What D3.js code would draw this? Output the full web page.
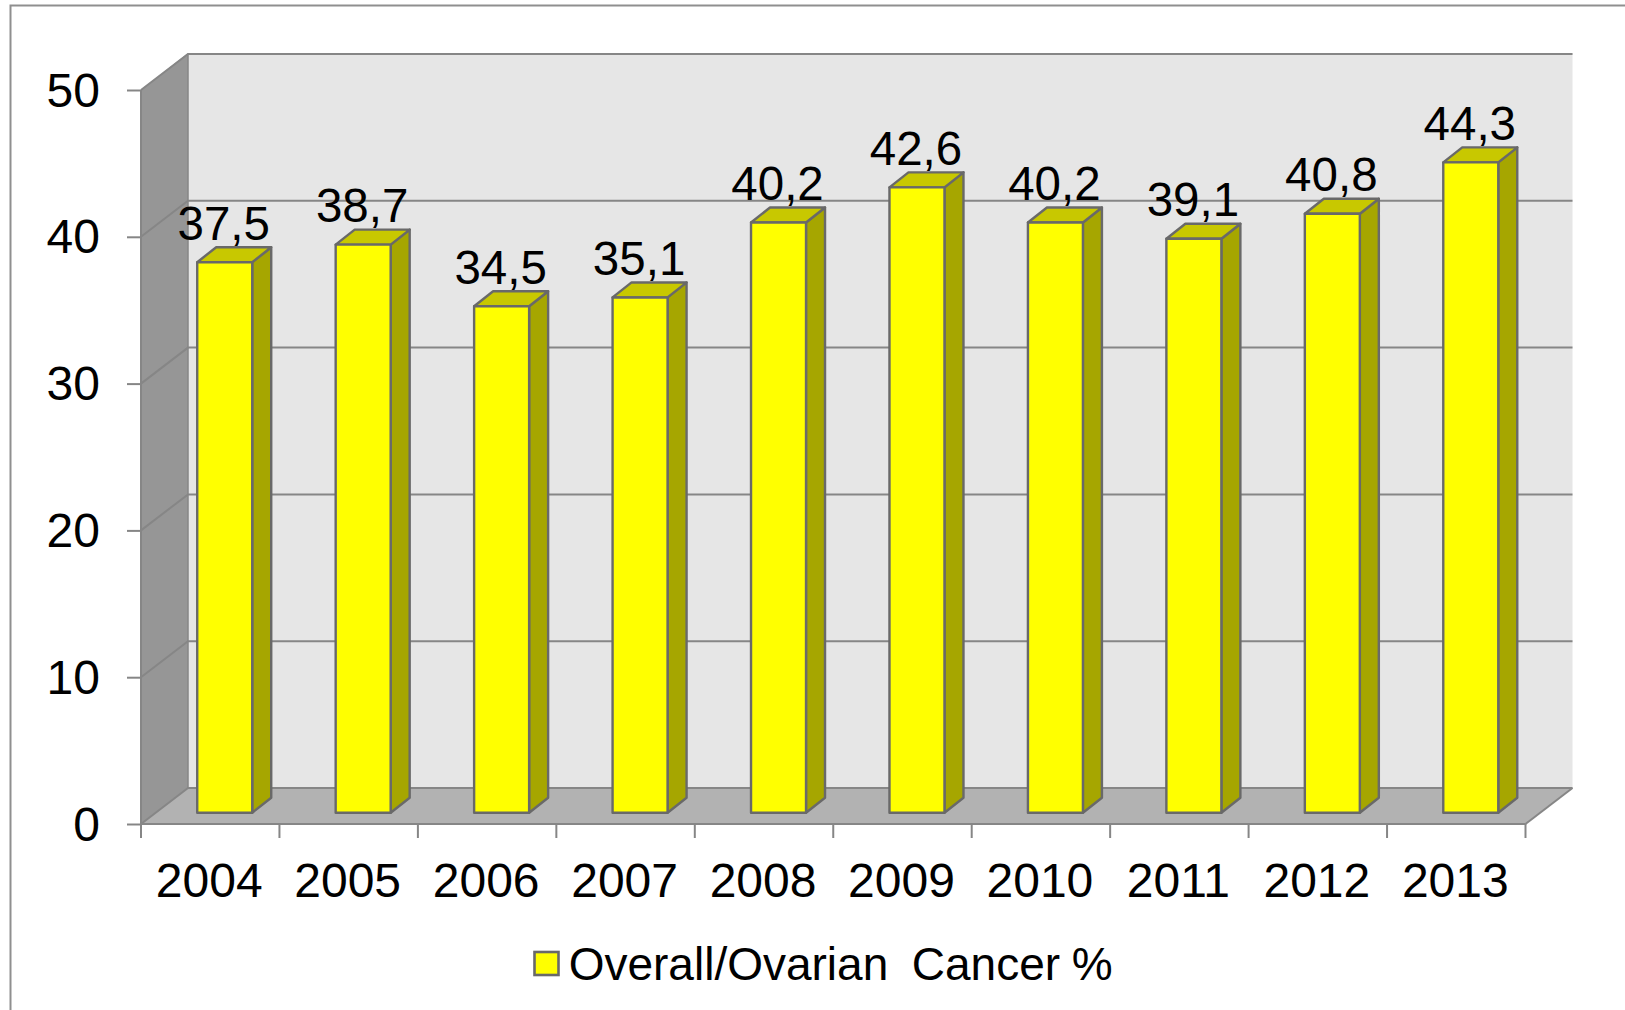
<!DOCTYPE html>
<html>
<head>
<meta charset="utf-8">
<script src="https://cdn.jsdelivr.net/npm/d3@7"></script>
<style>
html,body{margin:0;padding:0;background:#fff;overflow:hidden}
svg{display:block}
text{font-family:"Liberation Sans",Arial,sans-serif;fill:#000}
</style>
</head>
<body>
<svg id="c" width="1625" height="1010"></svg>
<script>
const years = ["2004","2005","2006","2007","2008","2009","2010","2011","2012","2013"];
const values = [37.5,38.7,34.5,35.1,40.2,42.6,40.2,39.1,40.8,44.3];
const yTicks = [0,10,20,30,40,50];
const seriesName = "Overall/Ovarian\u00A0\u00A0Cancer %";

const W = 1625, H = 1010;
const plotLeft = 141, plotRight = 1525.5, plotTop = 90, plotBottom = 824;
const depthX = 47, depthY = 36;         // wall depth
const barW = 55, barDX = 19, barDY = 15; // bar dimensions
const barOffX = 14.5, barOffY = 11.3;    // bar position inside the floor depth

const col = {frame:"#8f8f8f", wall:"#e6e6e6", side:"#969696", floor:"#b2b2b2",
             grid:"#868686", axis:"#868686", bar:"#ffff00", barSide:"#a6a600",
             barTop:"#c8c800", barLine:"#696969"};

const svg = d3.select("#c");
const x = d3.scaleBand().domain(years).range([plotLeft,plotRight]);
const y = d3.scaleLinear().domain([0,50]).range([plotBottom,plotTop]);
const poly = pts => d3.line()(pts) + "Z";

// frame
svg.append("path").attr("d","M10.5,"+H+"V5.5H"+W).attr("fill","none")
   .attr("stroke",col.frame).attr("stroke-width",2);

// walls and floor
svg.append("path").attr("fill",col.wall)
   .attr("d",poly([[plotLeft+depthX,y(50)-depthY-1],[plotRight+depthX,y(50)-depthY-1],[plotRight+depthX,plotBottom-depthY],[plotLeft+depthX,plotBottom-depthY]]));
svg.append("path").attr("fill",col.side)
   .attr("d",poly([[plotLeft,y(50)],[plotLeft+depthX,y(50)-depthY-1],[plotLeft+depthX,plotBottom-depthY],[plotLeft,plotBottom]]));
svg.append("path").attr("fill",col.floor)
   .attr("d",poly([[plotLeft,plotBottom],[plotLeft+depthX,plotBottom-depthY],[plotRight+depthX,plotBottom-depthY],[plotRight,plotBottom]]));

// gridlines: back wall and side wall
const grid = svg.append("g").attr("fill","none").attr("stroke",col.grid).attr("stroke-width",2);
yTicks.forEach(t=>{
  grid.append("path").attr("d",d3.line()([[plotLeft,y(t)],[plotLeft+depthX,y(t)-depthY],[plotRight+depthX,y(t)-depthY]]));
});
grid.append("path").attr("d",d3.line()([[plotRight,plotBottom],[plotRight+depthX,plotBottom-depthY]]));
grid.append("path").attr("stroke-width",1.5).attr("d",d3.line()([[plotLeft+depthX,y(50)-depthY],[plotLeft+depthX,plotBottom-depthY]]));

// axes
const yAxis = d3.axisLeft(y).tickValues(yTicks).tickSize(14).tickPadding(27);
const gy = svg.append("g").attr("transform",`translate(${plotLeft},0)`).call(yAxis);
gy.select(".domain").attr("stroke",col.axis).attr("stroke-width",2).attr("d",`M0,${y(50)}V${plotBottom}`);
gy.selectAll(".tick line").attr("stroke",col.axis).attr("stroke-width",2);
gy.selectAll(".tick text").attr("font-size",48).attr("font-family",null).attr("fill","#000").attr("dy","16px");

const xAxis = d3.axisBottom(x).tickSize(0).tickPadding(39);
const gx = svg.append("g").attr("transform",`translate(0,${plotBottom})`).call(xAxis);
gx.select(".domain").attr("stroke",col.axis).attr("stroke-width",2).attr("d",`M${plotLeft},0H${plotRight}`);
gx.selectAll(".tick line").remove();
gx.selectAll(".tick text").attr("font-size",48).attr("font-family",null).attr("fill","#000")
  .attr("dy",null).attr("y",897-plotBottom).attr("x",-1);
gx.selectAll("line.edge").data(years.map(d=>x(d)).concat([x.range()[1]])).enter().append("line")
  .attr("class","edge").attr("x1",d=>d).attr("x2",d=>d).attr("y1",0).attr("y2",14)
  .attr("stroke",col.axis).attr("stroke-width",2);

// bars
const barX = d => x(d) + x.bandwidth()/2 - barW/2 + barOffX;
const barBase = plotBottom - barOffY;
const bars = svg.append("g").selectAll("g").data(years.map((d,i)=>({year:d,value:values[i]}))).enter().append("g")
  .attr("stroke",col.barLine).attr("stroke-width",2.4).attr("stroke-linejoin","round");
bars.append("path").attr("fill",col.barSide).attr("d",d=>{
  const a=barX(d.year)+barW, t=y(d.value)-barOffY;
  return poly([[a,t],[a+barDX,t-barDY],[a+barDX,barBase-barDY],[a,barBase]]);
});
bars.append("path").attr("fill",col.barTop).attr("d",d=>{
  const a=barX(d.year), t=y(d.value)-barOffY;
  return poly([[a,t],[a+barDX,t-barDY],[a+barW+barDX,t-barDY],[a+barW,t]]);
});
bars.append("rect").attr("fill",col.bar)
  .attr("x",d=>barX(d.year)).attr("width",barW)
  .attr("y",d=>y(d.value)-barOffY).attr("height",d=>barBase-(y(d.value)-barOffY));

// data labels
svg.append("g").selectAll("text").data(years.map((d,i)=>({year:d,value:values[i]}))).enter().append("text")
  .attr("x",d=>barX(d.year)+barW/2-1).attr("y",d=>y(d.value)-barOffY-22.5)
  .attr("text-anchor","middle").attr("font-size",47.5)
  .text(d=>String(d.value).replace(".",","));

// legend
svg.append("rect").attr("x",534.5).attr("y",952).attr("width",24).attr("height",23)
   .attr("fill",col.bar).attr("stroke",col.barLine).attr("stroke-width",2.6);
svg.append("text").attr("x",568.7).attr("y",980).attr("font-size",46)
   .attr("word-spacing","-1px").text(seriesName);
</script>
</body>
</html>
